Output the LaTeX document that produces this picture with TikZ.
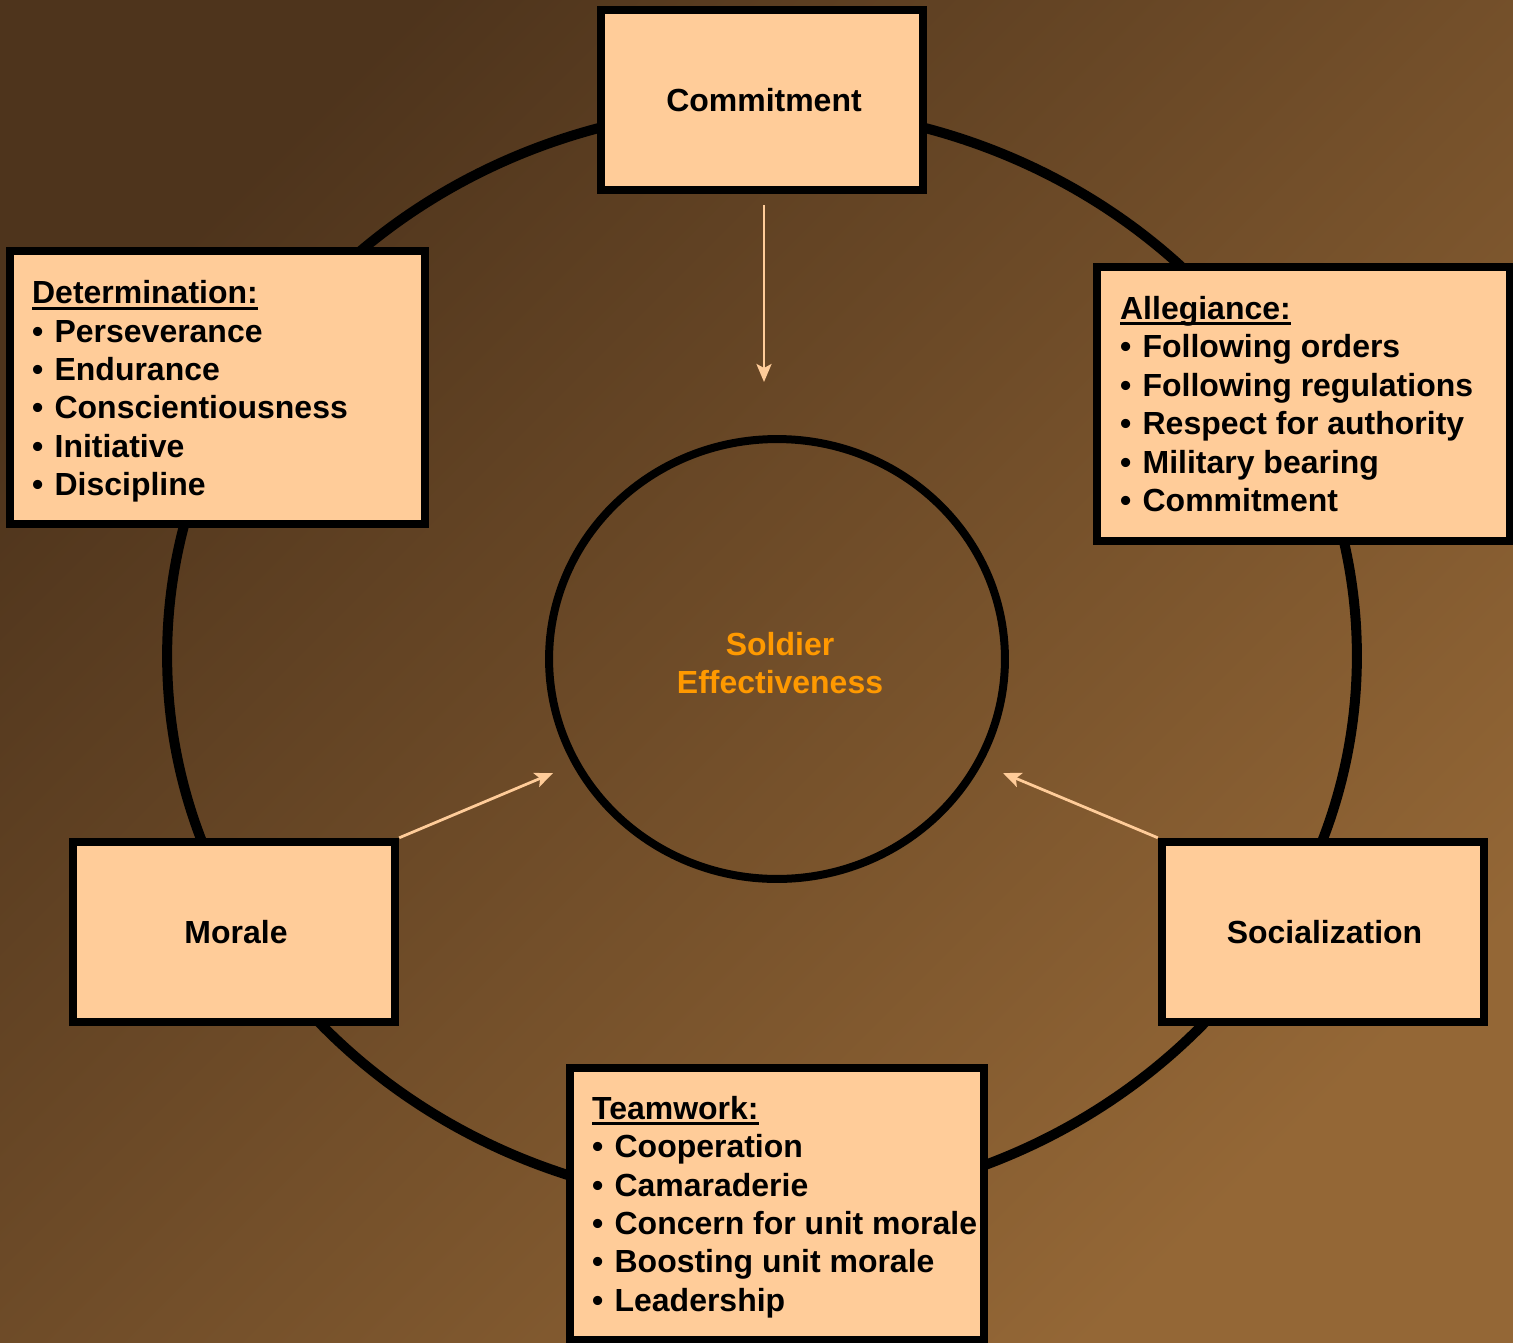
\documentclass[tikz,border=0pt]{standalone}
\usepackage{fontspec}
\setmainfont{Liberation Sans}
\usetikzlibrary{arrows.meta,shapes.geometric}
\definecolor{bgdark}{HTML}{4E341C}
\definecolor{bglight}{HTML}{946736}
\definecolor{peach}{HTML}{FFCC99}
\definecolor{orangetxt}{HTML}{FF9900}
\newcommand\hdline[1]{\setbox0\hbox{#1}\rlap{\rule[-0.12cm]{\wd0}{0.065cm}}\box0}
\newcommand\itm[1]{\makebox[0.45cm][l]{\textbullet}#1}
\begin{document}
\begin{tikzpicture}[x=0.02cm,y=-0.02cm,
  txt/.style={font=\fontsize{18.2pt}{21.85pt}\selectfont\bfseries},
  box/.style={draw=black, line width=0.17cm, fill=peach, inner sep=0pt},
  smallbox/.style={box, minimum width=6.44cm, minimum height=3.6cm},
  boxlabel/.style={txt, inner sep=0pt},
  listtext/.style={txt, align=left, inner sep=0pt, anchor=west},
  arrowline/.style={draw=peach, line width=0.055cm, -{Stealth[length=0.36cm,width=0.3cm,inset=0.08cm]}}]
\useasboundingbox (0,0) rectangle (1513,1342);
\shade[top color=bgdark, bottom color=bglight, shading angle=45] (0,0) rectangle (1513,1342);
% outer ring
\draw[line width=0.2cm] (762,656) ellipse [x radius=11.9cm, y radius=10.98cm];
% centre
\node[draw, line width=0.16cm, ellipse, minimum width=9.12cm, minimum height=8.8cm,
      inner sep=0pt] (se) at (777,659) {};
\node[txt, text=orangetxt, align=center, inner sep=0pt] (seT) at ([xshift=0.06cm,yshift=-0.08cm]se.center) {Soldier\\Effectiveness};
% simple boxes
\node[smallbox] (comm) at (762,100) {};
\node[boxlabel] (commT) at ([xshift=0.04cm]comm.center) {Commitment};
\node[smallbox] (mor) at (234,932) {};
\node[boxlabel] (morT) at ([xshift=0.04cm]mor.center) {Morale};
\node[smallbox] (soc) at (1323,932) {};
\node[boxlabel] (socT) at ([xshift=0.03cm]soc.center) {Socialization};
% list boxes
\node[box, minimum width=8.3cm, minimum height=5.46cm] (det) at (217.5,387.5) {};
\node[listtext] (detT) at ([xshift=0.52cm,yshift=-0.08cm]det.west)
  {\hdline{Determination:}\\ \itm{Perseverance}\\ \itm{Endurance}\\ \itm{Conscientiousness}\\ \itm{Initiative}\\ \itm{Discipline}};
\node[box, minimum width=8.26cm, minimum height=5.48cm] (all) at (1303.5,404) {};
\node[listtext] (allT) at ([xshift=0.54cm]all.west)
  {\hdline{Allegiance:}\\ \itm{Following orders}\\ \itm{Following regulations}\\ \itm{Respect for authority}\\ \itm{Military bearing}\\ \itm{Commitment}};
\node[box, minimum width=8.28cm, minimum height=5.44cm] (team) at (777,1204) {};
\node[listtext] (teamT) at ([xshift=0.52cm,yshift=-0.06cm]team.west)
  {\hdline{Teamwork:}\\ \itm{Cooperation}\\ \itm{Camaraderie}\\ \itm{Concern for unit morale}\\ \itm{Boosting unit morale}\\ \itm{Leadership}};
% arrows
\coordinate (a1) at (764,382);
\coordinate (a2) at (553,773);
\coordinate (a3) at (1003,773);
\draw[arrowline, shorten <=0.22cm] (comm.south -| a1) -- (a1);
\draw[arrowline] (mor.north east) -- (a2);
\draw[arrowline] (soc.north west) -- (a3);
\end{tikzpicture}
\end{document}
